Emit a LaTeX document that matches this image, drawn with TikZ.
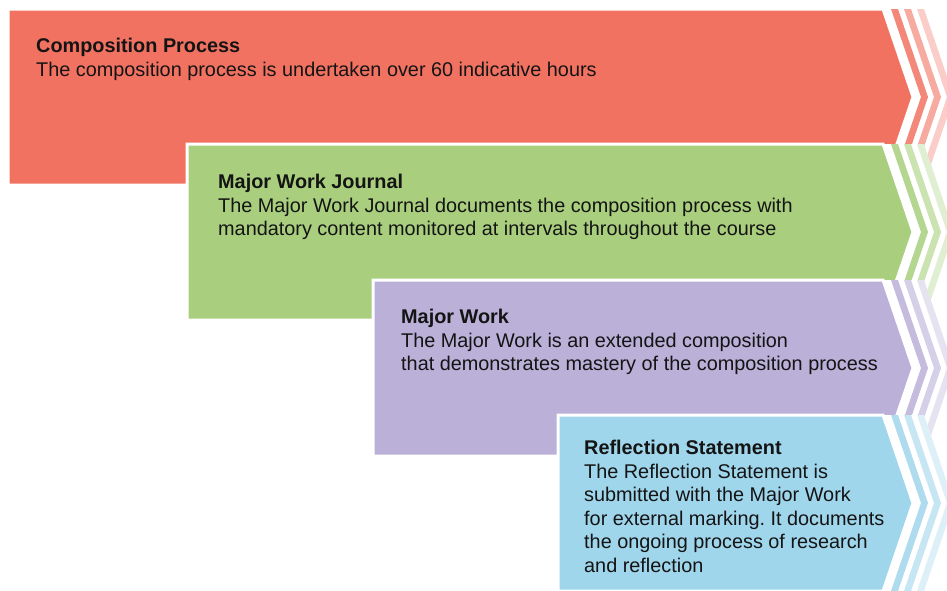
\documentclass[tikz,border=0pt]{standalone}
\usepackage{fontspec}
\setmainfont{Liberation Sans}
\usetikzlibrary{positioning}
\frenchspacing
\definecolor{cpred}{HTML}{F27262}
\definecolor{mwjgreen}{HTML}{A9CF7E}
\definecolor{mwpurple}{HTML}{BAB0D8}
\definecolor{rsblue}{HTML}{A0D6EC}
\definecolor{inktext}{HTML}{141414}

% one band: left, top, colour
\newcommand{\chevronband}[3]{%
  \fill[white] (#1,#2) -- (924,#2) -- (954,#2+88) -- (924,#2+176) -- (#1,#2+176) -- cycle;
  \foreach \a/\o in {8/0.85,21/0.6,34/0.35}
    \fill[#3,opacity=\o] (883+\a,#2) -- (913+\a,#2+88) -- (883+\a,#2+176)
      -- (890+\a,#2+176) -- (920+\a,#2+88) -- (890+\a,#2) -- cycle;
  \filldraw[fill=#3,draw=white,line width=3pt] (#1,#2) -- (883,#2) -- (913,#2+88)
    -- (883,#2+176) -- (#1,#2+176) -- cycle;
}

\begin{document}
\begin{tikzpicture}[x=1pt,y=-1pt,
    bandtext/.style={anchor=north west,inner sep=0pt,align=left,text=inktext,
      font=\fontsize{19.85}{23.5}\selectfont}]
    \useasboundingbox (0,0) rectangle (947,590);

    \chevronband{8}{9}{cpred}
    \node[bandtext] (cp) at (36,38) {\textbf{Composition Process}\\
      The composition process is undertaken over 60 indicative hours};

    \chevronband{187}{144}{mwjgreen}
    \node[bandtext] (mwj) at (218,174) {\textbf{Major Work Journal}\\
      The Major Work Journal documents the composition process with\\
      mandatory content monitored at intervals throughout the course};

    \chevronband{373}{280}{mwpurple}
    \node[bandtext] (mw) at (401,309) {\textbf{Major Work}\\
      The Major Work is an extended composition\\
      that demonstrates mastery of the composition process};

    \chevronband{558}{415}{rsblue}
    \node[bandtext] (rs) at (584,440) {\textbf{Reflection Statement}\\
      The Reflection Statement is\\
      submitted with the Major Work\\
      for external marking. It documents\\
      the ongoing process of research\\
      and reflection};
\end{tikzpicture}
\end{document}
